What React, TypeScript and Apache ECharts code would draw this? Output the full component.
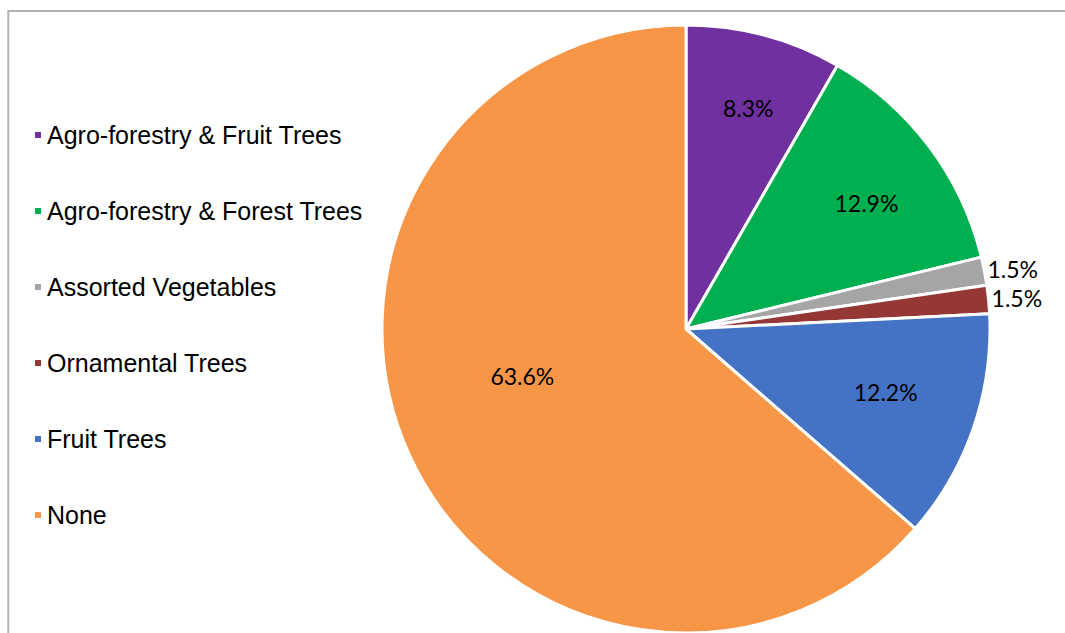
import React, { useEffect, useRef } from "react";
import * as echarts from "echarts";

const categories = [
  "Agro-forestry & Fruit Trees",
  "Agro-forestry & Forest Trees",
  "Assorted Vegetables",
  "Ornamental Trees",
  "Fruit Trees",
  "None",
];
const values = [8.3, 12.9, 1.5, 1.5, 12.2, 63.6];
const colors = ["#7030A0", "#00B050", "#A5A5A5", "#953735", "#4472C4", "#F79646"];
const outsideLabelIdx = [2, 3];
const outerInsideIdx = [0, 1, 4];
const innerInsideIdx = [5];
// small label nudges (px) per category, [dx, dy]
const labelNudge = [[5, -7], [3, 7], [-5, -2], [-5, -1], [-10, -10], [-6, -25]];

const LABEL_FONT = "Lato, 'Noto Sans', sans-serif";

export default function App() {
  const ref = useRef<HTMLDivElement>(null);
  useEffect(() => {
    document.body.style.margin = "0";
    if (!ref.current) return;
    const chart = echarts.init(ref.current, undefined, { renderer: "svg" });
    const center = [686, 329];
    const R = 304;
    const fmt = (p: any) => values[p.dataIndex].toFixed(1) + "%";
    const nudge = (p: any) => ({ dx: labelNudge[p.dataIndex][0], dy: labelNudge[p.dataIndex][1] });
    const labelSeries = (radius: number, idx: number[]) => ({
      type: "pie",
      silent: true,
      center,
      radius: [0, radius],
      startAngle: 90,
      clockwise: true,
      avoidLabelOverlap: false,
      emphasis: { disabled: true },
      itemStyle: { color: "rgba(0,0,0,0)", borderWidth: 0 },
      labelLine: { show: false },
      labelLayout: nudge,
      data: categories.map((name, i) => ({
        name,
        value: values[i],
        label: {
          show: idx.includes(i),
          position: "inside",
          formatter: fmt,
          fontFamily: LABEL_FONT,
          fontSize: 23,
          color: "#000",
        },
      })),
    });
    chart.setOption({
      animation: false,
      backgroundColor: "#fff",
      graphic: [
        {
          type: "rect",
          shape: { x: 8.3, y: 11, width: 1100, height: 700 },
          style: { fill: "none", stroke: "#b4b4b4", lineWidth: 2 },
          silent: true,
        },
      ],
      legend: {
        orient: "vertical",
        left: 28,
        top: 117.5,
        icon: "rect",
        itemWidth: 8,
        itemHeight: 8,
        itemGap: 51,
        selectedMode: false,
        textStyle: { fontFamily: "Arial", fontSize: 25, color: "#000" },
        data: categories.map((name, i) => ({ name, itemStyle: { color: colors[i] } })),
      },
      series: [
        {
          type: "pie",
          center,
          radius: [0, R],
          startAngle: 90,
          clockwise: true,
          avoidLabelOverlap: false,
          emphasis: { disabled: true },
          itemStyle: { borderColor: "#fff", borderWidth: 3 },
          labelLine: { show: false, length: 3, length2: 0 },
          labelLayout: nudge,
          data: categories.map((name, i) => ({
            name,
            value: values[i],
            itemStyle: { color: colors[i] },
            label: {
              show: outsideLabelIdx.includes(i),
              position: "outside",
              formatter: fmt,
              fontFamily: LABEL_FONT,
              fontSize: 23,
              color: "#000",
            },
          })),
        },
        labelSeries(2 * 0.72 * R, outerInsideIdx),
        labelSeries(2 * 0.56 * R, innerInsideIdx),
      ],
    });
    return () => chart.dispose();
  }, []);
  return <div ref={ref} style={{ width: 1065, height: 633 }} />;
}
